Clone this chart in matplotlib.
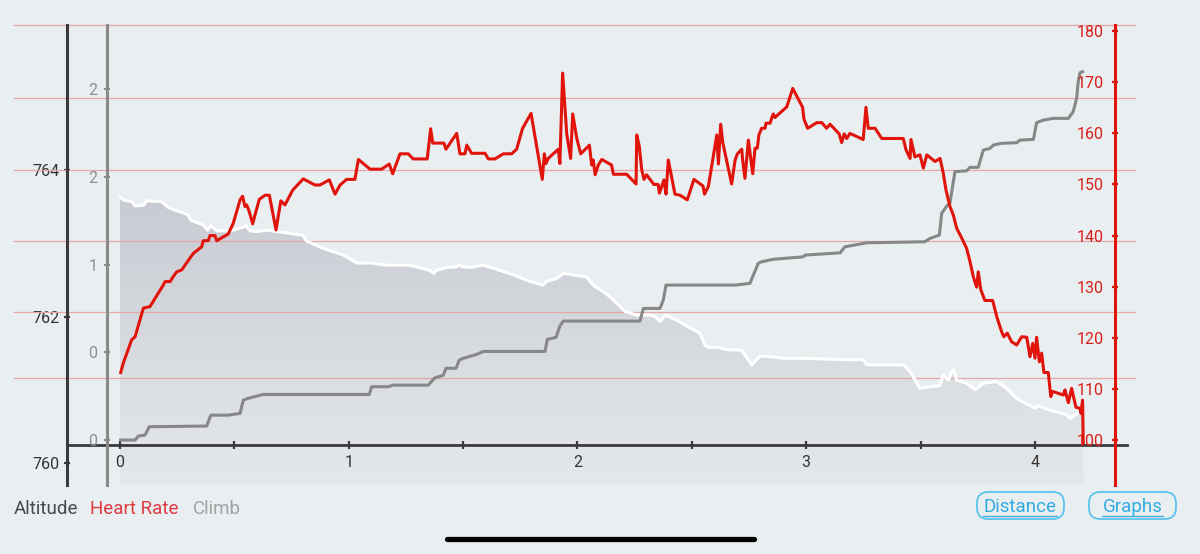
import numpy as np
import matplotlib.pyplot as plt
from matplotlib.colors import LinearSegmentedColormap
from matplotlib.patches import FancyBboxPatch

plt.rcParams['font.family'] = ['Roboto', 'DejaVu Sans']

# ---- data (distance in km) ----
hr_km = [0.003, 0.014, 0.051, 0.066, 0.102, 0.131, 0.189, 0.197, 0.219, 0.233,
         0.248, 0.270, 0.306, 0.320, 0.357, 0.364, 0.386, 0.393, 0.415, 0.423,
         0.473, 0.495, 0.525, 0.536, 0.546, 0.554, 0.565, 0.580, 0.590, 0.609,
         0.634, 0.653, 0.682, 0.703, 0.721, 0.755, 0.801, 0.852, 0.874, 0.915,
         0.940, 0.962, 0.991, 1.027, 1.042, 1.093, 1.144, 1.177, 1.192, 1.224,
         1.260, 1.282, 1.343, 1.358, 1.367, 1.416, 1.425, 1.472, 1.486, 1.508,
         1.516, 1.537, 1.596, 1.610, 1.639, 1.676, 1.712, 1.734, 1.760, 1.797,
         1.846, 1.855, 1.862, 1.872, 1.916, 1.923, 1.935, 1.953, 1.970, 1.979,
         1.997, 2.014, 2.052, 2.062, 2.069, 2.077, 2.091, 2.106, 2.149, 2.157,
         2.215, 2.256, 2.259, 2.270, 2.281, 2.291, 2.302, 2.334, 2.353, 2.358,
         2.368, 2.378, 2.387, 2.397, 2.426, 2.448, 2.480, 2.509, 2.549, 2.555,
         2.572, 2.609, 2.616, 2.626, 2.635, 2.674, 2.689, 2.699, 2.718, 2.722,
         2.732, 2.747, 2.766, 2.776, 2.786, 2.793, 2.805, 2.820, 2.824, 2.842,
         2.849, 2.856, 2.863, 2.915, 2.941, 2.984, 2.990, 3.006, 3.046, 3.068,
         3.089, 3.104, 3.144, 3.155, 3.166, 3.177, 3.191, 3.249, 3.261, 3.271,
         3.301, 3.330, 3.424, 3.436, 3.454, 3.458, 3.475, 3.497, 3.512, 3.527,
         3.563, 3.585, 3.599, 3.611, 3.628, 3.643, 3.658, 3.680, 3.701, 3.716,
         3.730, 3.745, 3.752, 3.763, 3.781, 3.815, 3.833, 3.854, 3.864, 3.879,
         3.898, 3.920, 3.942, 3.964, 3.978, 3.990, 4.000, 4.007, 4.019, 4.029,
         4.039, 4.058, 4.069, 4.077, 4.124, 4.131, 4.146, 4.160, 4.179, 4.197,
         4.201, 4.208, 4.211]
hr_bpm = [113.2, 115.0, 119.6, 120.2, 125.8, 126.1, 130.3, 131.0, 131.0, 132.0,
          132.9, 133.3, 135.6, 136.5, 137.8, 139.0, 139.0, 140.0, 140.0, 139.0,
          140.3, 142.4, 147.0, 147.7, 145.7, 146.0, 144.7, 142.3, 144.0, 147.1,
          147.9, 147.9, 141.1, 146.8, 146.0, 148.9, 151.1, 149.9, 149.9, 150.9,
          148.1, 149.9, 151.0, 151.0, 154.9, 153.0, 153.0, 154.0, 152.1, 156.0,
          156.0, 155.0, 155.0, 160.9, 158.1, 158.1, 156.9, 160.0, 156.0, 156.0,
          157.7, 156.1, 156.1, 155.0, 155.0, 156.0, 156.0, 156.9, 161.0, 163.9,
          151.0, 156.0, 154.1, 155.1, 156.9, 154.1, 171.8, 159.9, 155.1, 163.8,
          159.0, 156.0, 157.7, 153.8, 154.8, 151.9, 153.8, 154.9, 153.8, 152.0,
          152.0, 150.1, 159.7, 157.5, 152.8, 151.0, 151.9, 150.0, 150.0, 148.3,
          149.6, 150.9, 148.1, 154.8, 148.1, 147.9, 147.0, 151.0, 149.7, 148.1,
          149.6, 159.7, 154.0, 161.8, 158.2, 150.1, 154.8, 156.0, 156.9, 154.8,
          151.2, 158.7, 152.1, 157.1, 157.1, 159.7, 161.0, 161.0, 162.0, 162.0,
          163.0, 163.8, 163.1, 165.2, 168.8, 165.1, 162.8, 161.0, 162.1, 162.1,
          161.0, 161.8, 159.9, 158.2, 159.9, 159.0, 160.0, 158.8, 165.1, 161.0,
          161.0, 159.0, 159.0, 156.8, 155.1, 158.8, 155.4, 155.8, 153.2, 155.8,
          154.5, 155.1, 152.2, 148.9, 145.7, 144.0, 141.4, 139.5, 137.5, 134.9,
          132.0, 129.9, 132.9, 129.4, 127.3, 127.3, 124.1, 121.2, 120.2, 120.9,
          119.2, 118.6, 120.2, 120.1, 116.3, 118.9, 116.0, 120.1, 115.3, 117.0,
          113.2, 113.2, 108.5, 109.5, 108.8, 109.8, 107.3, 110.1, 106.4, 106.2,
          105.2, 107.8, 99.4]

alt_km = [0.0, 0.014, 0.051, 0.066, 0.102, 0.117, 0.182, 0.211, 0.240, 0.292,
          0.313, 0.364, 0.383, 0.397, 0.423, 0.481, 0.539, 0.551, 0.568, 0.598,
          0.641, 0.685, 0.799, 0.816, 0.889, 0.976, 1.035, 1.100, 1.166, 1.268,
          1.355, 1.370, 1.384, 1.428, 1.472, 1.483, 1.494, 1.530, 1.588, 1.632,
          1.719, 1.792, 1.850, 1.865, 1.909, 1.938, 2.040, 2.062, 2.077, 2.113,
          2.149, 2.208, 2.259, 2.317, 2.339, 2.361, 2.383, 2.434, 2.477, 2.536,
          2.557, 2.572, 2.616, 2.645, 2.718, 2.762, 2.798, 2.856, 2.900, 2.973,
          3.191, 3.249, 3.264, 3.424, 3.454, 3.497, 3.585, 3.599, 3.621, 3.643,
          3.658, 3.701, 3.738, 3.774, 3.833, 3.876, 3.920, 3.956, 4.000, 4.014,
          4.066, 4.139, 4.153, 4.197, 4.211]
alt_m = [763.63, 763.59, 763.57, 763.51, 763.52, 763.58, 763.57, 763.49, 763.45, 763.40,
         763.31, 763.25, 763.18, 763.24, 763.17, 763.17, 763.22, 763.24, 763.17, 763.16,
         763.18, 763.16, 763.11, 763.03, 762.93, 762.84, 762.73, 762.73, 762.70, 762.70,
         762.63, 762.59, 762.63, 762.67, 762.68, 762.71, 762.68, 762.67, 762.70, 762.66,
         762.57, 762.48, 762.43, 762.48, 762.52, 762.59, 762.54, 762.45, 762.41, 762.34,
         762.25, 762.07, 762.02, 762.02, 762.00, 761.93, 762.02, 761.95, 761.87, 761.77,
         761.61, 761.58, 761.58, 761.55, 761.54, 761.34, 761.46, 761.45, 761.43, 761.43,
         761.41, 761.41, 761.34, 761.34, 761.25, 761.02, 761.06, 761.20, 761.13, 761.29,
         761.13, 761.09, 761.00, 761.09, 761.11, 761.02, 760.88, 760.82, 760.75, 760.78,
         760.72, 760.66, 760.61, 760.70, 760.74]

climb_km = [0.003, 0.066, 0.080, 0.109, 0.128, 0.379, 0.397, 0.473, 0.525, 0.539,
            0.561, 0.626, 1.090, 1.100, 1.173, 1.195, 1.348, 1.363, 1.377, 1.413,
            1.425, 1.469, 1.483, 1.501, 1.559, 1.588, 1.858, 1.868, 1.906, 1.923,
            1.938, 2.273, 2.288, 2.361, 2.375, 2.387, 2.689, 2.754, 2.790, 2.805,
            2.856, 2.987, 2.995, 3.148, 3.169, 3.264, 3.519, 3.541, 3.582, 3.592,
            3.614, 3.628, 3.650, 3.701, 3.716, 3.752, 3.774, 3.803, 3.818, 3.854,
            3.920, 3.934, 3.993, 4.007, 4.036, 4.080, 4.146, 4.167, 4.182, 4.189,
            4.197, 4.208]
climb_val = [0.0, 0.0, 0.023, 0.028, 0.076, 0.080, 0.142, 0.142, 0.152, 0.228,
             0.238, 0.260, 0.260, 0.304, 0.304, 0.313, 0.313, 0.336, 0.355, 0.369,
             0.409, 0.409, 0.456, 0.466, 0.488, 0.505, 0.505, 0.574, 0.585, 0.650,
             0.678, 0.678, 0.750, 0.750, 0.798, 0.883, 0.883, 0.893, 1.007, 1.016,
             1.030, 1.044, 1.054, 1.067, 1.101, 1.124, 1.130, 1.149, 1.168, 1.292,
             1.333, 1.349, 1.529, 1.534, 1.554, 1.554, 1.652, 1.662, 1.681, 1.691,
             1.694, 1.709, 1.713, 1.808, 1.823, 1.833, 1.833, 1.871, 1.947, 2.042,
             2.093, 2.099]

x_ticks = [0, 0.5, 1, 1.5, 2, 2.5, 3, 3.5, 4]
alt_ticks = [760, 762, 764]
climb_ticks = [0, 0.5, 1, 1.5, 2]
hr_ticks = [100, 110, 120, 130, 140, 150, 160, 170, 180]
grid_alt = [765.98, 764.98, 764.0, 763.03, 762.06, 761.16]

# ---- styling ----
BG = '#e9eef1'
DARK = '#3a3a3d'
GREY = '#8a8a8a'
RED = '#e1140c'

fig = plt.figure(figsize=(12, 5.54), dpi=100, facecolor=BG)

# pixel overlay for legend / buttons
ov = fig.add_axes([0, 0, 1, 1])
ov.set_xlim(0, 1200)
ov.set_ylim(554, 0)
ov.axis('off')

ov.text(14, 509, 'Altitude', color='#48484b', fontsize=13.5, va='center')
ov.text(90, 509, 'Heart Rate', color='#de3a40', fontsize=13.5, va='center')
ov.text(193, 509, 'Climb', color='#a2a2a2', fontsize=13.5, va='center')

for label, x0, x1, u0, u1 in [('Distance', 977, 1064, 983, 1057),
                              ('Graphs', 1089, 1176, 1102, 1163)]:
    ov.add_patch(FancyBboxPatch((x0, 492), x1 - x0, 27,
                                boxstyle='round,pad=0,rounding_size=11',
                                fc='none', ec='#5ec3ec', lw=1.3))
    ov.text((u0 + u1) / 2, 507, label, color='#33ace1', fontsize=13.5,
            ha='center', va='center')
    ov.plot([u0, u1], [515.5, 515.5], color='#33ace1', lw=0.9)

ov.plot([447, 754], [539, 539], color='black', lw=3.8, solid_capstyle='round')

# ---- altitude axes (main) ----
ax = fig.add_axes([14 / 1200, 69 / 554, 1121 / 1200, 460 / 554])
ax.set_facecolor('none')

fill = ax.fill_between(alt_km, alt_m, 759.70, facecolor='none', edgecolor='none')
cmap = LinearSegmentedColormap.from_list('alt', ['#e5e8eb', '#c8cbd2'])
grad = np.linspace(0, 1, 256).reshape(-1, 1)
im = ax.imshow(grad, extent=[0, alt_km[-1], 759.70, max(alt_m)], origin='lower',
               aspect='auto', cmap=cmap, zorder=1)
im.set_clip_path(fill.get_paths()[0], transform=ax.transData)

for g in grid_alt:
    ax.axhline(g, color='#e7a6a6', lw=0.9, zorder=2, clip_on=False)

ax.plot(alt_km[:-1], alt_m[:-1], color='white', lw=2.2, zorder=3,
        solid_joinstyle='round')

ax.set_xlim(-0.4634, 4.4372)
ax.set_ylim(759.70, 765.98)

for s in ['top', 'right']:
    ax.spines[s].set_visible(False)
ax.spines['left'].set_position(('data', -0.232))
ax.spines['left'].set_color(DARK)
ax.spines['left'].set_linewidth(2.2)
ax.spines['bottom'].set_position(('axes', 40 / 460))
ax.spines['bottom'].set_bounds(-0.232, 4.402)
ax.spines['bottom'].set_color(DARK)
ax.spines['bottom'].set_linewidth(2.0)

ax.set_xticks(x_ticks)
ax.set_xticklabels([f'{t:g}' if t == int(t) else '' for t in x_ticks])
ax.tick_params(axis='x', direction='inout', length=6, width=1.6, color=DARK,
               labelsize=11.5, labelcolor='#333333', pad=4)
ax.set_yticks(alt_ticks)
ax.tick_params(axis='y', direction='inout', length=5, width=1.6, color=DARK,
               labelsize=11.5, labelcolor='#333333', pad=2.5)

# ---- climb axes ----
axc = ax.twinx()
axc.set_ylim(-0.256, 2.365)
for s in ['top', 'right', 'bottom']:
    axc.spines[s].set_visible(False)
axc.spines['left'].set_visible(True)
axc.spines['left'].set_position(('data', -0.057))
axc.spines['left'].set_color(GREY)
axc.spines['left'].set_linewidth(2.2)
axc.yaxis.set_ticks_position('left')
axc.set_yticks(climb_ticks)
axc.set_yticklabels([f'{v:.0f}' for v in climb_ticks])
axc.tick_params(axis='y', direction='inout', length=5, width=1.6, color=GREY,
                labelsize=11.5, labelcolor='#8e8e8e', pad=4.5)
axc.plot(climb_km, climb_val, color='#878787', lw=2.2, solid_joinstyle='round')

# ---- heart rate axes ----
axh = ax.twinx()
axh.set_ylim(91.19, 181.21)
for s in ['top', 'right', 'bottom']:
    axh.spines[s].set_visible(False)
axh.spines['left'].set_visible(True)
axh.spines['left'].set_position(('data', 4.350))
axh.spines['left'].set_color(RED)
axh.spines['left'].set_linewidth(2.2)
axh.yaxis.set_ticks_position('left')
axh.set_yticks(hr_ticks)
axh.tick_params(axis='y', direction='inout', length=5, width=1.6, color=RED,
                labelsize=11.5, labelcolor='#d8201a', pad=5.5)
axh.plot(hr_km, hr_bpm, color=RED, lw=2.2, solid_joinstyle='round')

fig.savefig('out.png', dpi=100, facecolor=BG)
